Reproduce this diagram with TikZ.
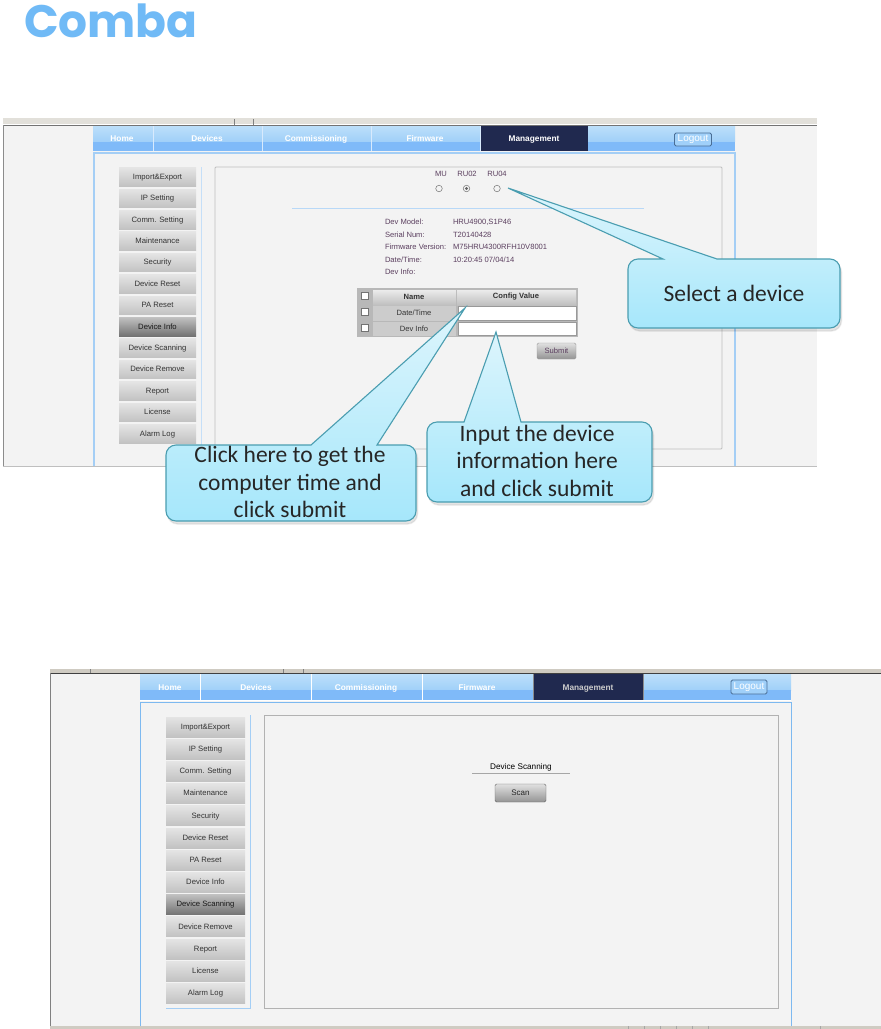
\documentclass[tikz,border=0pt]{standalone}
\usepackage{fontspec}
\setmainfont{Liberation Sans}
\newfontfamily\logofont{Poppins}
\newfontfamily\callfont{Carlito}
\usetikzlibrary{positioning}
\definecolor{panelbg}{HTML}{F3F3F3}
\definecolor{stripc}{HTML}{CFCBC2}
\definecolor{tabtop}{HTML}{BCDFFA}
\definecolor{tabmid}{HTML}{A0D0F9}
\definecolor{tablow}{HTML}{7FBAF9}
\definecolor{frameblue}{HTML}{7DB9F0}
\definecolor{navy}{HTML}{20294F}
\definecolor{logoblue}{HTML}{70BAF6}
\definecolor{calltop}{HTML}{DDF5FC}
\definecolor{callbot}{HTML}{A6E7FB}
\definecolor{callline}{HTML}{4A9DB0}
\definecolor{infotext}{HTML}{5B3F5F}
\definecolor{btntop}{HTML}{E4E4E4}
\definecolor{btnbot}{HTML}{C2C2C2}
\definecolor{logoutline}{HTML}{4A6E96}
\tikzset{
  x=1pt,y=-1pt,
  every node/.style={inner sep=0pt,outer sep=0pt},
  tablabel/.style={text=white,font=\fontsize{8.3}{9}\selectfont\bfseries},
  menubtn/.style={minimum height=18.5pt,top color=btntop,bottom color=btnbot,text height=6pt,text depth=1.5pt,font=\fontsize{7.7}{9}\selectfont,text=black!80},
  activebtn/.style={top color=black!25,bottom color=black!55,text=black!90},
  smalltext/.style={font=\fontsize{7.6}{9}\selectfont,text=infotext,anchor=west},
  celltext/.style={font=\fontsize{7.6}{9}\selectfont,text=black!80},
  callshape/.style={draw=callline,line width=1.1pt,top color=calltop,bottom color=callbot},
  callshadow/.style={fill=black,fill opacity=.10,draw=black,draw opacity=.06,line width=1.5pt},
  calltext/.style={align=center,font=\fontsize{23.5}{27.5}\selectfont\callfont,text=black!85},
  radiobtn/.style={circle,draw=black!55,fill=panelbg,line width=.5pt,minimum size=6.5pt},
  checkbox/.style={draw=black!55,fill=white,line width=.5pt,minimum size=7pt},
  pushbtn/.style={draw=black!40,top color=white!88!black,bottom color=black!42,rounded corners=1.5pt,font=\fontsize{7.6}{9}\selectfont,text=infotext},
  logoutbtn/.style={draw=logoutline,line width=.8pt,fill=tabmid,rounded corners=1.5pt,text=white,font=\fontsize{10}{10}\selectfont}
}
\newcommand{\tabband}[4]{%
  \fill[top color=tabtop,bottom color=tabmid] (#1,#3) rectangle (#2,{#3+0.62*(#4-#3)});
  \fill[tablow] (#1,{#3+0.62*(#4-#3)}) rectangle (#2,#4);
}
\newcommand{\callout}[8]{% x1 y1 x2 y2 tipx tipy basel baser (pointer on the top edge)
  \path[callshadow,xshift=1.5pt,yshift=-3pt,rounded corners=10pt] (#1,#2) rectangle (#3,#4);
  \path[callshape] (#5,#6) -- (#8,#2) [rounded corners=10pt] -- (#3,#2) -- (#3,#4) -- (#1,#4) -- (#1,#2) [sharp corners] -- (#7,#2) -- cycle;
}
\begin{document}
\begin{tikzpicture}
\useasboundingbox (0,0) rectangle (881,1029);
\fill[white] (0,0) rectangle (881,1029);
% Logo
\node[anchor=base west,font=\fontsize{45.5}{46}\selectfont\logofont\bfseries,text=logoblue] (logo) at (24,37) {Comba};

% ---------- Upper screenshot
\fill[panelbg] (3,125) rectangle (817,466);
\fill[stripc!60] (3,118) rectangle (817,124);
\draw[black!55,line width=1pt] (3,125) -- (817,125);
\draw[black!45,line width=.8pt] (3,125) -- (3,466);
\draw[black!25,line width=.8pt] (3,466) -- (817,466);
\draw[black!50,line width=.8pt] (234,119) -- (234,125) (253,119) -- (253,125);
\tabband{93}{735}{126}{151}
\fill[navy] (480,126) rectangle (588,151);
\draw[white!70!tablow,line width=.6pt] (153,126) -- (153,151) (262,126) -- (262,151) (371,126) -- (371,151) (480,126) -- (480,151);
\node[tablabel] (th) at (122,139) {Home};
\node[tablabel] (td) at (207,139) {Devices};
\node[tablabel] (tc) at (316,139) {Commissioning};
\node[tablabel] (tf) at (425,139) {Firmware};
\node[tablabel] (tm) at (534,140) {Management};
\node[logoutbtn,minimum width=37pt,minimum height=13pt] (tl) at (693,139.5) {Logout};
\draw[frameblue!70,line width=1.4pt] (94,466) -- (94,153) -- (735,153) -- (735,466);
\draw[frameblue!45,line width=1pt] (201,167) -- (201,466);
\draw[black!25,line width=.8pt,rounded corners=1pt] (215,449) -- (215,167) -- (722,167) -- (722,449) -- cycle;
\foreach \i/\t in {0/Import\&Export,1/IP Setting,2/Comm. Setting,3/Maintenance,4/Security,5/Device Reset,6/PA Reset,8/Device Scanning,9/Device Remove,10/Report,11/License,12/Alarm Log}{
  \node[menubtn,minimum width=77pt] (ub\i) at (157.5,{177+\i*21.4}) {\t};
}
\node[menubtn,activebtn,minimum width=77pt] (ub7) at (157.5,{177+7*21.4}) {Device Info};
% device choice
\node[smalltext,anchor=center] (umu) at (441,174) {MU};
\node[smalltext,anchor=center] (uru2) at (467,174) {RU02};
\node[smalltext,anchor=center] (uru4) at (497,174) {RU04};
\node[radiobtn] (ur1) at (439,188.5) {};
\node[radiobtn] (ur2) at (466.5,188.5) {};
\fill[black!60] (ur2.center) circle (1.6pt);
\node[radiobtn] (ur3) at (497,188.5) {};
\draw[frameblue!55,line width=.8pt] (292,208) -- (644,208);
\node[smalltext] (il1) at (385,222) {Dev Model:};
\node[smalltext] (il2) at (385,235) {Serial Num:};
\node[smalltext] (il3) at (385,247) {Firmware Version:};
\node[smalltext] (il4) at (385,260) {Date/Time:};
\node[smalltext] (il5) at (385,272) {Dev Info:};
\node[smalltext] (iv1) at (453,222) {HRU4900,S1P46};
\node[smalltext] (iv2) at (453,235) {T20140428};
\node[smalltext] (iv3) at (453,247) {M75HRU4300RFH10V8001};
\node[smalltext] (iv4) at (453,260) {10:20:45 07/04/14};
% table
\fill[black!28] (357,288) rectangle (578,337);
\fill[top color=black!8,bottom color=black!25] (373,290) rectangle (456,305);
\fill[top color=black!8,bottom color=black!25] (457,290) rectangle (576,305);
\fill[black!20] (373,306) rectangle (456,321);
\fill[black!20] (373,322) rectangle (456,336);
\node[checkbox] (uc1) at (364.5,296) {};
\node[checkbox] (uc2) at (364.5,312) {};
\node[checkbox] (uc3) at (364.5,328) {};
\node[celltext] (un) at (414,297) {\bfseries Name};
\node[celltext] (uv) at (516,297) {\bfseries Config Value};
\node[celltext] (ud) at (414,313) {Date/Time};
\node[celltext] (ui) at (414,329) {Dev Info};
\draw[black!40,fill=white,line width=.6pt] (458,306) rectangle (576,320);
\draw[black!40,fill=white,line width=.6pt] (458,322) rectangle (576,335);
\node[pushbtn,minimum width=39pt,minimum height=16pt] (usub) at (556.5,351) {Submit};
% callouts
\callout{628}{259}{840}{328}{508}{188}{663}{717}
\node[calltext] (c1) at (734,293) {Select a device};
\callout{166}{445}{416}{521}{465}{308}{311}{377}
\node[calltext] (c2) at (290,482) {Click here to get the\\computer time and\\click submit};
\callout{427}{422}{652}{502}{496}{332}{464}{521}
\node[calltext] (c3) at (537,460.5) {Input the device\\information here\\and click submit};

% ---------- Lower screenshot
\fill[panelbg] (50,673) rectangle (881,1026);
\fill[stripc] (50,669) rectangle (881,673);
\draw[black!75,line width=.9pt] (50,673.5) -- (881,673.5);
\draw[black!50,line width=1pt] (50,673) -- (50,1026);
\fill[stripc] (50,1026) rectangle (881,1029);
\draw[black!50,line width=.6pt] (283,669) -- (283,673) (303,669) -- (303,673) (90,669) -- (90,673);
\foreach \x in {628,644,660,676,692,708,820}{\draw[black!35,line width=.5pt] (\x,1026) -- (\x,1029);}
\tabband{140}{791}{674}{700}
\fill[navy] (533,674) rectangle (643,700);
\draw[white,line width=.7pt] (200.5,674) -- (200.5,700) (311.5,674) -- (311.5,700) (422,674) -- (422,700);
\draw[black!45,line width=.8pt] (533,674) -- (533,700) (643,674) -- (643,700);
\draw[white,line width=.7pt] (140,700.5) -- (791,700.5);
\node[tablabel] (lh) at (170,688) {Home};
\node[tablabel] (ld) at (256,688) {Devices};
\node[tablabel] (lc) at (366,688) {Commissioning};
\node[tablabel] (lf) at (477,688) {Firmware};
\node[tablabel,text=black!20] (lm) at (588,688.5) {Management};
\node[logoutbtn,minimum width=36pt,minimum height=14pt] (ll) at (749,687) {Logout};
\draw[frameblue,line width=1pt] (140.5,1026) -- (140.5,702) -- (791,702) -- (791,1026);
\draw[frameblue!70,line width=.8pt] (166,1008) -- (250.5,1008) -- (250.5,715);
\draw[black!30,line width=.8pt] (264,1008) -- (264,715) -- (778,715) -- (778,1008) -- cycle;
\foreach \i/\t in {0/Import\&Export,1/IP Setting,2/Comm. Setting,3/Maintenance,4/Security,5/Device Reset,6/PA Reset,7/Device Info,9/Device Remove,10/Report,11/License,12/Alarm Log}{
  \node[menubtn,minimum width=79pt,minimum height=20pt] (lb\i) at (205.5,{727+\i*22.2}) {\t};
}
\node[menubtn,activebtn,minimum width=79pt,minimum height=20pt] (lb8) at (205.5,{727+8*22.2}) {Device Scanning};
\node[celltext,text=black,font=\fontsize{8.2}{9}\selectfont] (lt) at (521,767) {Device Scanning};
\draw[black!35,line width=.7pt] (472,773.5) -- (570,773.5);
\node[pushbtn,text=black!85,draw=black!60,minimum width=51pt,minimum height=18pt,font=\fontsize{8}{9}\selectfont] (lscan) at (520.5,793) {Scan};
\end{tikzpicture}
\end{document}
